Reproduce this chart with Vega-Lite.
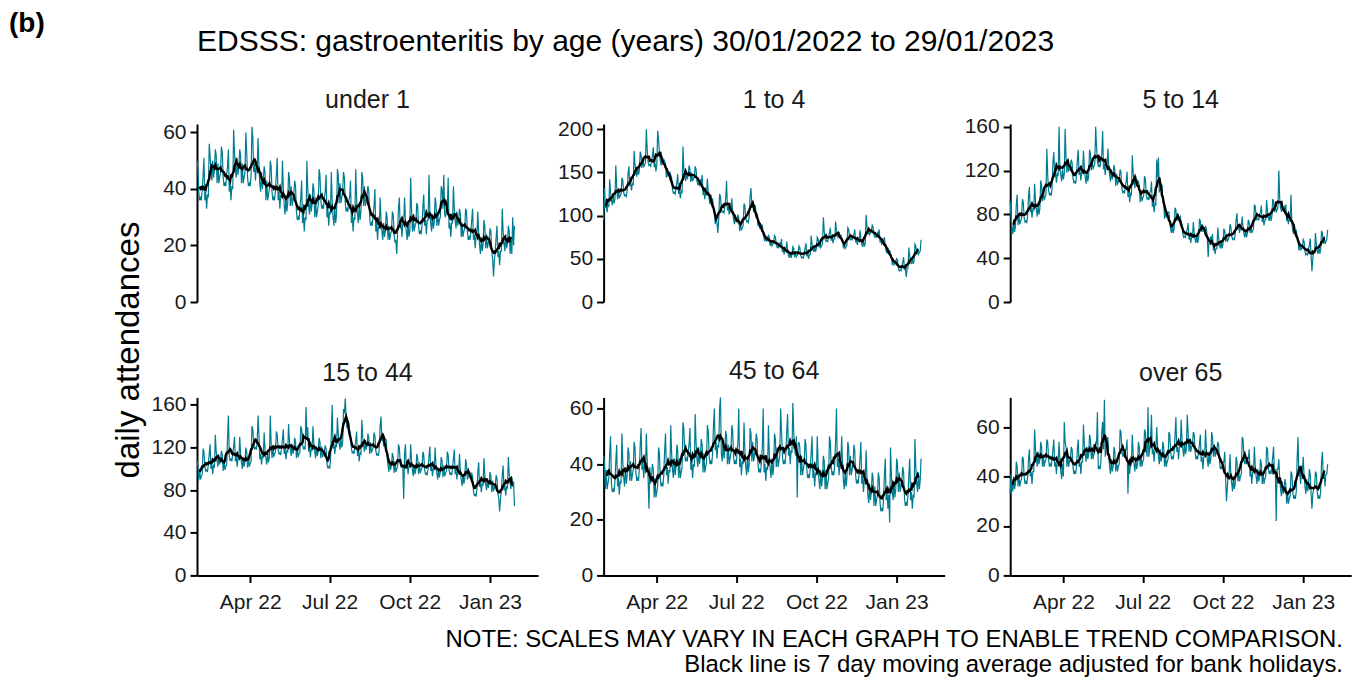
{
"$schema":"https://vega.github.io/schema/vega-lite/v6.json",
"background":"white",
"padding":{"left":8,"top":10,"right":5,"bottom":2},
"config":{"font":"Liberation Sans","view":{"stroke":null},
"axis":{"grid":false,"domainColor":"black","domainWidth":2,"tickColor":"black","tickWidth":2,"tickSize":7,"labelColor":"#1a1a1a","labelFontSize":21,"labelPadding":4},
"title":{"fontSize":25,"fontWeight":"normal","color":"#1a1a1a","anchor":"middle","frame":"group","baseline":"alphabetic","offset":16}},
"datasets":{"g":[
{"t":"2022-01-30","a":50,"b":95,"c":92,"d":108,"e":43,"f":33},
{"t":"2022-01-31","a":48,"b":132,"c":76,"d":104,"e":41,"f":41},
{"t":"2022-02-01","a":39,"b":109,"c":68,"d":89,"e":31,"f":37},
{"t":"2022-02-02","a":36,"b":114,"c":62,"d":100,"e":38,"f":34},
{"t":"2022-02-03","a":37,"b":104,"c":73,"d":90,"e":31,"f":40},
{"t":"2022-02-04","a":36,"b":112,"c":64,"d":93,"e":33,"f":35},
{"t":"2022-02-05","a":40,"b":111,"c":69,"d":95,"e":35,"f":37},
{"t":"2022-02-06","a":45,"b":142,"c":89,"d":119,"e":44,"f":46},
{"t":"2022-02-07","a":51,"b":126,"c":98,"d":116,"e":50,"f":44},
{"t":"2022-02-08","a":36,"b":118,"c":70,"d":102,"e":33,"f":36},
{"t":"2022-02-09","a":39,"b":112,"c":81,"d":98,"e":30,"f":41},
{"t":"2022-02-10","a":33,"b":123,"c":71,"d":99,"e":31,"f":36},
{"t":"2022-02-11","a":38,"b":114,"c":74,"d":97,"e":30,"f":38},
{"t":"2022-02-12","a":37,"b":119,"c":76,"d":104,"e":34,"f":39},
{"t":"2022-02-13","a":56,"b":158,"c":94,"d":114,"e":41,"f":48},
{"t":"2022-02-14","a":52,"b":134,"c":91,"d":123,"e":47,"f":47},
{"t":"2022-02-15","a":46,"b":119,"c":77,"d":100,"e":32,"f":40},
{"t":"2022-02-16","a":43,"b":130,"c":73,"d":105,"e":35,"f":37},
{"t":"2022-02-17","a":50,"b":120,"c":74,"d":95,"e":29,"f":38},
{"t":"2022-02-18","a":44,"b":123,"c":72,"d":103,"e":34,"f":37},
{"t":"2022-02-19","a":47,"b":125,"c":79,"d":102,"e":33,"f":40},
{"t":"2022-02-20","a":54,"b":144,"c":96,"d":132,"e":51,"f":47},
{"t":"2022-02-21","a":52,"b":141,"c":105,"d":116,"e":41,"f":51},
{"t":"2022-02-22","a":42,"b":127,"c":82,"d":108,"e":35,"f":40},
{"t":"2022-02-23","a":49,"b":123,"c":87,"d":102,"e":32,"f":42},
{"t":"2022-02-24","a":42,"b":124,"c":77,"d":113,"e":39,"f":37},
{"t":"2022-02-25","a":44,"b":122,"c":85,"d":104,"e":33,"f":42},
{"t":"2022-02-26","a":46,"b":129,"c":84,"d":109,"e":36,"f":42},
{"t":"2022-02-27","a":55,"b":148,"c":108,"d":117,"e":46,"f":59},
{"t":"2022-02-28","a":53,"b":157,"c":92,"d":113,"e":44,"f":51},
{"t":"2022-03-01","a":44,"b":134,"c":84,"d":98,"e":34,"f":47},
{"t":"2022-03-02","a":41,"b":139,"c":78,"d":109,"e":41,"f":44},
{"t":"2022-03-03","a":42,"b":129,"c":89,"d":99,"e":34,"f":50},
{"t":"2022-03-04","a":41,"b":137,"c":80,"d":102,"e":36,"f":45},
{"t":"2022-03-05","a":45,"b":136,"c":85,"d":104,"e":38,"f":47},
{"t":"2022-03-06","a":48,"b":175,"c":111,"d":129,"e":48,"f":54},
{"t":"2022-03-07","a":54,"b":159,"c":107,"d":150,"e":46,"f":52},
{"t":"2022-03-08","a":39,"b":151,"c":92,"d":112,"e":37,"f":44},
{"t":"2022-03-09","a":42,"b":145,"c":103,"d":108,"e":34,"f":49},
{"t":"2022-03-10","a":36,"b":156,"c":93,"d":109,"e":35,"f":44},
{"t":"2022-03-11","a":41,"b":147,"c":96,"d":107,"e":34,"f":46},
{"t":"2022-03-12","a":40,"b":152,"c":98,"d":114,"e":38,"f":47},
{"t":"2022-03-13","a":61,"b":174,"c":140,"d":121,"e":47,"f":55},
{"t":"2022-03-14","a":53,"b":170,"c":116,"d":130,"e":53,"f":54},
{"t":"2022-03-15","a":47,"b":155,"c":102,"d":107,"e":38,"f":47},
{"t":"2022-03-16","a":44,"b":166,"c":98,"d":112,"e":41,"f":44},
{"t":"2022-03-17","a":51,"b":156,"c":99,"d":102,"e":35,"f":45},
{"t":"2022-03-18","a":45,"b":159,"c":97,"d":110,"e":40,"f":44},
{"t":"2022-03-19","a":48,"b":161,"c":104,"d":109,"e":39,"f":47},
{"t":"2022-03-20","a":54,"b":200,"c":128,"d":130,"e":51,"f":51},
{"t":"2022-03-21","a":52,"b":176,"c":137,"d":114,"e":41,"f":55},
{"t":"2022-03-22","a":42,"b":162,"c":114,"d":106,"e":35,"f":44},
{"t":"2022-03-23","a":49,"b":158,"c":119,"d":100,"e":24,"f":46},
{"t":"2022-03-24","a":42,"b":159,"c":109,"d":111,"e":39,"f":41},
{"t":"2022-03-25","a":44,"b":157,"c":117,"d":102,"e":33,"f":46},
{"t":"2022-03-26","a":46,"b":164,"c":116,"d":107,"e":36,"f":46},
{"t":"2022-03-27","a":60,"b":170,"c":160,"d":120,"e":40,"f":54},
{"t":"2022-03-28","a":53,"b":179,"c":124,"d":116,"e":38,"f":46},
{"t":"2022-03-29","a":44,"b":156,"c":116,"d":101,"e":28,"f":42},
{"t":"2022-03-30","a":41,"b":161,"c":110,"d":112,"e":35,"f":39},
{"t":"2022-03-31","a":42,"b":151,"c":121,"d":102,"e":28,"f":45},
{"t":"2022-04-01","a":41,"b":159,"c":112,"d":105,"e":30,"f":40},
{"t":"2022-04-02","a":45,"b":198,"c":117,"d":107,"e":32,"f":62},
{"t":"2022-04-03","a":62,"b":188,"c":158,"d":140,"e":46,"f":54},
{"t":"2022-04-04","a":58,"b":172,"c":133,"d":137,"e":44,"f":52},
{"t":"2022-04-05","a":46,"b":164,"c":118,"d":123,"e":35,"f":44},
{"t":"2022-04-06","a":49,"b":158,"c":129,"d":119,"e":32,"f":49},
{"t":"2022-04-07","a":43,"b":169,"c":119,"d":120,"e":33,"f":44},
{"t":"2022-04-08","a":48,"b":160,"c":122,"d":118,"e":32,"f":46},
{"t":"2022-04-09","a":47,"b":165,"c":124,"d":125,"e":36,"f":47},
{"t":"2022-04-10","a":58,"b":163,"c":130,"d":150,"e":45,"f":52},
{"t":"2022-04-11","a":48,"b":159,"c":127,"d":132,"e":51,"f":51},
{"t":"2022-04-12","a":42,"b":144,"c":113,"d":109,"e":36,"f":44},
{"t":"2022-04-13","a":39,"b":155,"c":109,"d":114,"e":39,"f":41},
{"t":"2022-04-14","a":46,"b":145,"c":110,"d":104,"e":33,"f":42},
{"t":"2022-04-15","a":40,"b":148,"c":108,"d":112,"e":38,"f":41},
{"t":"2022-04-16","a":43,"b":150,"c":115,"d":111,"e":37,"f":44},
{"t":"2022-04-17","a":48,"b":147,"c":130,"d":134,"e":54,"f":51},
{"t":"2022-04-18","a":46,"b":144,"c":139,"d":118,"e":44,"f":55},
{"t":"2022-04-19","a":36,"b":130,"c":116,"d":110,"e":38,"f":44},
{"t":"2022-04-20","a":43,"b":126,"c":121,"d":104,"e":35,"f":46},
{"t":"2022-04-21","a":36,"b":127,"c":111,"d":115,"e":42,"f":41},
{"t":"2022-04-22","a":38,"b":125,"c":119,"d":106,"e":36,"f":46},
{"t":"2022-04-23","a":40,"b":132,"c":118,"d":111,"e":39,"f":46},
{"t":"2022-04-24","a":50,"b":139,"c":138,"d":150,"e":47,"f":61},
{"t":"2022-04-25","a":48,"b":148,"c":122,"d":125,"e":45,"f":53},
{"t":"2022-04-26","a":39,"b":125,"c":114,"d":110,"e":35,"f":49},
{"t":"2022-04-27","a":36,"b":130,"c":108,"d":121,"e":42,"f":46},
{"t":"2022-04-28","a":37,"b":120,"c":119,"d":111,"e":35,"f":52},
{"t":"2022-04-29","a":36,"b":128,"c":110,"d":114,"e":37,"f":47},
{"t":"2022-04-30","a":40,"b":127,"c":115,"d":116,"e":39,"f":49},
{"t":"2022-05-01","a":45,"b":180,"c":139,"d":135,"e":55,"f":57},
{"t":"2022-05-02","a":51,"b":154,"c":135,"d":132,"e":53,"f":55},
{"t":"2022-05-03","a":36,"b":146,"c":120,"d":118,"e":44,"f":47},
{"t":"2022-05-04","a":39,"b":140,"c":131,"d":114,"e":41,"f":52},
{"t":"2022-05-05","a":33,"b":151,"c":121,"d":115,"e":42,"f":47},
{"t":"2022-05-06","a":38,"b":142,"c":124,"d":113,"e":41,"f":49},
{"t":"2022-05-07","a":37,"b":147,"c":126,"d":120,"e":45,"f":50},
{"t":"2022-05-08","a":50,"b":158,"c":160,"d":128,"e":47,"f":54},
{"t":"2022-05-09","a":40,"b":154,"c":142,"d":137,"e":53,"f":53},
{"t":"2022-05-10","a":34,"b":139,"c":128,"d":114,"e":38,"f":66},
{"t":"2022-05-11","a":31,"b":150,"c":124,"d":119,"e":41,"f":43},
{"t":"2022-05-12","a":38,"b":140,"c":125,"d":109,"e":35,"f":44},
{"t":"2022-05-13","a":32,"b":143,"c":123,"d":117,"e":40,"f":43},
{"t":"2022-05-14","a":35,"b":145,"c":130,"d":116,"e":39,"f":46},
{"t":"2022-05-15","a":46,"b":157,"c":135,"d":142,"e":58,"f":58},
{"t":"2022-05-16","a":44,"b":154,"c":156,"d":126,"e":48,"f":62},
{"t":"2022-05-17","a":34,"b":140,"c":121,"d":118,"e":42,"f":51},
{"t":"2022-05-18","a":41,"b":136,"c":126,"d":112,"e":39,"f":71},
{"t":"2022-05-19","a":34,"b":137,"c":116,"d":123,"e":46,"f":48},
{"t":"2022-05-20","a":36,"b":135,"c":124,"d":114,"e":40,"f":53},
{"t":"2022-05-21","a":38,"b":142,"c":123,"d":119,"e":43,"f":53},
{"t":"2022-05-22","a":43,"b":138,"c":140,"d":129,"e":49,"f":56},
{"t":"2022-05-23","a":41,"b":147,"c":124,"d":125,"e":47,"f":48},
{"t":"2022-05-24","a":32,"b":124,"c":116,"d":110,"e":37,"f":44},
{"t":"2022-05-25","a":29,"b":129,"c":110,"d":121,"e":44,"f":41},
{"t":"2022-05-26","a":30,"b":119,"c":121,"d":111,"e":37,"f":47},
{"t":"2022-05-27","a":29,"b":127,"c":112,"d":114,"e":39,"f":42},
{"t":"2022-05-28","a":33,"b":126,"c":117,"d":116,"e":41,"f":44},
{"t":"2022-05-29","a":37,"b":143,"c":125,"d":140,"e":54,"f":52},
{"t":"2022-05-30","a":43,"b":127,"c":121,"d":137,"e":52,"f":50},
{"t":"2022-05-31","a":28,"b":119,"c":106,"d":123,"e":43,"f":42},
{"t":"2022-06-01","a":31,"b":113,"c":117,"d":119,"e":40,"f":47},
{"t":"2022-06-02","a":25,"b":124,"c":107,"d":120,"e":41,"f":42},
{"t":"2022-06-03","a":30,"b":115,"c":110,"d":118,"e":40,"f":44},
{"t":"2022-06-04","a":29,"b":120,"c":112,"d":158,"e":44,"f":45},
{"t":"2022-06-05","a":50,"b":109,"c":121,"d":130,"e":54,"f":59},
{"t":"2022-06-06","a":40,"b":105,"c":118,"d":139,"e":60,"f":58},
{"t":"2022-06-07","a":34,"b":90,"c":104,"d":116,"e":45,"f":51},
{"t":"2022-06-08","a":31,"b":101,"c":100,"d":121,"e":48,"f":48},
{"t":"2022-06-09","a":38,"b":91,"c":101,"d":111,"e":42,"f":49},
{"t":"2022-06-10","a":32,"b":80,"c":99,"d":119,"e":47,"f":48},
{"t":"2022-06-11","a":35,"b":96,"c":106,"d":118,"e":46,"f":51},
{"t":"2022-06-12","a":42,"b":125,"c":110,"d":140,"e":60,"f":51},
{"t":"2022-06-13","a":40,"b":122,"c":119,"d":124,"e":64,"f":55},
{"t":"2022-06-14","a":30,"b":108,"c":96,"d":116,"e":44,"f":33},
{"t":"2022-06-15","a":37,"b":104,"c":101,"d":110,"e":41,"f":46},
{"t":"2022-06-16","a":30,"b":105,"c":91,"d":121,"e":48,"f":41},
{"t":"2022-06-17","a":32,"b":103,"c":99,"d":112,"e":42,"f":46},
{"t":"2022-06-18","a":34,"b":110,"c":98,"d":117,"e":45,"f":46},
{"t":"2022-06-19","a":47,"b":120,"c":134,"d":129,"e":52,"f":57},
{"t":"2022-06-20","a":45,"b":140,"c":118,"d":125,"e":50,"f":49},
{"t":"2022-06-21","a":36,"b":106,"c":110,"d":110,"e":40,"f":45},
{"t":"2022-06-22","a":33,"b":111,"c":104,"d":121,"e":47,"f":42},
{"t":"2022-06-23","a":34,"b":101,"c":115,"d":111,"e":40,"f":48},
{"t":"2022-06-24","a":33,"b":109,"c":106,"d":114,"e":42,"f":43},
{"t":"2022-06-25","a":37,"b":108,"c":111,"d":116,"e":44,"f":45},
{"t":"2022-06-26","a":39,"b":120,"c":110,"d":122,"e":54,"f":54},
{"t":"2022-06-27","a":45,"b":104,"c":106,"d":119,"e":52,"f":52},
{"t":"2022-06-28","a":30,"b":96,"c":91,"d":105,"e":43,"f":44},
{"t":"2022-06-29","a":33,"b":90,"c":102,"d":101,"e":40,"f":49},
{"t":"2022-06-30","a":27,"b":101,"c":92,"d":102,"e":41,"f":44},
{"t":"2022-07-01","a":32,"b":92,"c":95,"d":100,"e":40,"f":46},
{"t":"2022-07-02","a":31,"b":97,"c":97,"d":107,"e":44,"f":47},
{"t":"2022-07-03","a":46,"b":101,"c":115,"d":133,"e":48,"f":59},
{"t":"2022-07-04","a":36,"b":97,"c":112,"d":160,"e":60,"f":58},
{"t":"2022-07-05","a":30,"b":82,"c":98,"d":119,"e":39,"f":51},
{"t":"2022-07-06","a":27,"b":93,"c":94,"d":124,"e":42,"f":48},
{"t":"2022-07-07","a":34,"b":83,"c":95,"d":114,"e":36,"f":68},
{"t":"2022-07-08","a":28,"b":86,"c":93,"d":122,"e":41,"f":48},
{"t":"2022-07-09","a":31,"b":88,"c":100,"d":121,"e":40,"f":51},
{"t":"2022-07-10","a":47,"b":114,"c":101,"d":148,"e":55,"f":56},
{"t":"2022-07-11","a":45,"b":111,"c":110,"d":132,"e":45,"f":65},
{"t":"2022-07-12","a":35,"b":97,"c":87,"d":124,"e":39,"f":49},
{"t":"2022-07-13","a":42,"b":93,"c":92,"d":118,"e":36,"f":51},
{"t":"2022-07-14","a":35,"b":94,"c":82,"d":129,"e":43,"f":46},
{"t":"2022-07-15","a":37,"b":92,"c":90,"d":120,"e":37,"f":51},
{"t":"2022-07-16","a":39,"b":99,"c":89,"d":125,"e":40,"f":51},
{"t":"2022-07-17","a":46,"b":123,"c":130,"d":156,"e":53,"f":60},
{"t":"2022-07-18","a":44,"b":132,"c":114,"d":152,"e":51,"f":52},
{"t":"2022-07-19","a":35,"b":109,"c":132,"d":166,"e":41,"f":48},
{"t":"2022-07-20","a":32,"b":114,"c":100,"d":148,"e":48,"f":45},
{"t":"2022-07-21","a":33,"b":104,"c":111,"d":138,"e":41,"f":51},
{"t":"2022-07-22","a":32,"b":112,"c":102,"d":141,"e":43,"f":46},
{"t":"2022-07-23","a":36,"b":111,"c":107,"d":143,"e":45,"f":48},
{"t":"2022-07-24","a":37,"b":97,"c":95,"d":136,"e":51,"f":54},
{"t":"2022-07-25","a":43,"b":103,"c":91,"d":133,"e":49,"f":52},
{"t":"2022-07-26","a":28,"b":88,"c":76,"d":119,"e":40,"f":44},
{"t":"2022-07-27","a":31,"b":91,"c":87,"d":115,"e":37,"f":49},
{"t":"2022-07-28","a":25,"b":85,"c":77,"d":116,"e":38,"f":44},
{"t":"2022-07-29","a":30,"b":90,"c":80,"d":114,"e":37,"f":46},
{"t":"2022-07-30","a":29,"b":89,"c":82,"d":121,"e":41,"f":47},
{"t":"2022-07-31","a":47,"b":89,"c":82,"d":126,"e":46,"f":58},
{"t":"2022-08-01","a":37,"b":79,"c":72,"d":135,"e":60,"f":57},
{"t":"2022-08-02","a":31,"b":73,"c":66,"d":112,"e":37,"f":50},
{"t":"2022-08-03","a":28,"b":70,"c":63,"d":117,"e":40,"f":47},
{"t":"2022-08-04","a":35,"b":77,"c":70,"d":107,"e":34,"f":48},
{"t":"2022-08-05","a":29,"b":70,"c":63,"d":115,"e":39,"f":47},
{"t":"2022-08-06","a":32,"b":74,"c":67,"d":114,"e":38,"f":50},
{"t":"2022-08-07","a":46,"b":77,"c":86,"d":146,"e":54,"f":57},
{"t":"2022-08-08","a":44,"b":75,"c":84,"d":130,"e":44,"f":64},
{"t":"2022-08-09","a":34,"b":65,"c":74,"d":122,"e":38,"f":50},
{"t":"2022-08-10","a":41,"b":72,"c":81,"d":116,"e":35,"f":52},
{"t":"2022-08-11","a":34,"b":65,"c":74,"d":127,"e":42,"f":47},
{"t":"2022-08-12","a":36,"b":67,"c":76,"d":118,"e":36,"f":52},
{"t":"2022-08-13","a":38,"b":69,"c":78,"d":123,"e":39,"f":52},
{"t":"2022-08-14","a":41,"b":77,"c":73,"d":133,"e":51,"f":63},
{"t":"2022-08-15","a":39,"b":75,"c":71,"d":129,"e":49,"f":55},
{"t":"2022-08-16","a":30,"b":66,"c":62,"d":114,"e":39,"f":51},
{"t":"2022-08-17","a":27,"b":63,"c":59,"d":125,"e":46,"f":48},
{"t":"2022-08-18","a":28,"b":64,"c":60,"d":115,"e":39,"f":54},
{"t":"2022-08-19","a":27,"b":63,"c":59,"d":118,"e":41,"f":49},
{"t":"2022-08-20","a":31,"b":68,"c":64,"d":120,"e":43,"f":51},
{"t":"2022-08-21","a":34,"b":67,"c":66,"d":134,"e":60,"f":65},
{"t":"2022-08-22","a":40,"b":73,"c":72,"d":131,"e":52,"f":58},
{"t":"2022-08-23","a":25,"b":58,"c":57,"d":117,"e":43,"f":50},
{"t":"2022-08-24","a":28,"b":61,"c":60,"d":113,"e":40,"f":55},
{"t":"2022-08-25","a":22,"b":55,"c":54,"d":114,"e":41,"f":50},
{"t":"2022-08-26","a":27,"b":60,"c":59,"d":112,"e":40,"f":52},
{"t":"2022-08-27","a":26,"b":60,"c":59,"d":119,"e":44,"f":53},
{"t":"2022-08-28","a":37,"b":70,"c":73,"d":140,"e":52,"f":58},
{"t":"2022-08-29","a":29,"b":60,"c":63,"d":149,"e":58,"f":57},
{"t":"2022-08-30","a":25,"b":54,"c":57,"d":126,"e":43,"f":50},
{"t":"2022-08-31","a":22,"b":51,"c":54,"d":131,"e":46,"f":47},
{"t":"2022-09-01","a":28,"b":58,"c":61,"d":121,"e":40,"f":48},
{"t":"2022-09-02","a":23,"b":51,"c":54,"d":129,"e":45,"f":47},
{"t":"2022-09-03","a":25,"b":55,"c":58,"d":128,"e":44,"f":50},
{"t":"2022-09-04","a":32,"b":64,"c":76,"d":127,"e":62,"f":53},
{"t":"2022-09-05","a":30,"b":62,"c":74,"d":111,"e":52,"f":57},
{"t":"2022-09-06","a":22,"b":52,"c":64,"d":103,"e":46,"f":46},
{"t":"2022-09-07","a":27,"b":59,"c":71,"d":97,"e":43,"f":48},
{"t":"2022-09-08","a":22,"b":52,"c":64,"d":108,"e":50,"f":43},
{"t":"2022-09-09","a":24,"b":54,"c":66,"d":99,"e":28,"f":48},
{"t":"2022-09-10","a":25,"b":56,"c":68,"d":104,"e":47,"f":48},
{"t":"2022-09-11","a":32,"b":65,"c":69,"d":115,"e":48,"f":59},
{"t":"2022-09-12","a":31,"b":63,"c":67,"d":111,"e":46,"f":51},
{"t":"2022-09-13","a":24,"b":54,"c":58,"d":96,"e":36,"f":47},
{"t":"2022-09-14","a":21,"b":51,"c":41,"d":107,"e":43,"f":44},
{"t":"2022-09-15","a":22,"b":52,"c":56,"d":97,"e":36,"f":50},
{"t":"2022-09-16","a":17,"b":51,"c":55,"d":100,"e":38,"f":45},
{"t":"2022-09-17","a":24,"b":56,"c":60,"d":102,"e":40,"f":47},
{"t":"2022-09-18","a":33,"b":62,"c":56,"d":123,"e":49,"f":58},
{"t":"2022-09-19","a":37,"b":68,"c":62,"d":120,"e":47,"f":56},
{"t":"2022-09-20","a":26,"b":53,"c":47,"d":106,"e":38,"f":48},
{"t":"2022-09-21","a":28,"b":56,"c":50,"d":102,"e":35,"f":53},
{"t":"2022-09-22","a":23,"b":50,"c":44,"d":103,"e":36,"f":48},
{"t":"2022-09-23","a":28,"b":55,"c":49,"d":101,"e":35,"f":50},
{"t":"2022-09-24","a":28,"b":55,"c":49,"d":72,"e":39,"f":51},
{"t":"2022-09-25","a":37,"b":77,"c":68,"d":114,"e":44,"f":54},
{"t":"2022-09-26","a":29,"b":67,"c":58,"d":123,"e":50,"f":53},
{"t":"2022-09-27","a":25,"b":61,"c":52,"d":100,"e":35,"f":46},
{"t":"2022-09-28","a":22,"b":58,"c":49,"d":105,"e":38,"f":43},
{"t":"2022-09-29","a":28,"b":65,"c":56,"d":95,"e":32,"f":44},
{"t":"2022-09-30","a":23,"b":58,"c":49,"d":103,"e":37,"f":43},
{"t":"2022-10-01","a":25,"b":62,"c":53,"d":102,"e":36,"f":46},
{"t":"2022-10-02","a":44,"b":75,"c":67,"d":123,"e":50,"f":46},
{"t":"2022-10-03","a":33,"b":73,"c":65,"d":107,"e":40,"f":50},
{"t":"2022-10-04","a":25,"b":63,"c":55,"d":99,"e":34,"f":39},
{"t":"2022-10-05","a":30,"b":70,"c":62,"d":93,"e":31,"f":30},
{"t":"2022-10-06","a":25,"b":63,"c":55,"d":104,"e":38,"f":36},
{"t":"2022-10-07","a":27,"b":65,"c":57,"d":95,"e":32,"f":41},
{"t":"2022-10-08","a":28,"b":67,"c":59,"d":100,"e":35,"f":41},
{"t":"2022-10-09","a":35,"b":98,"c":71,"d":114,"e":43,"f":49},
{"t":"2022-10-10","a":34,"b":82,"c":69,"d":110,"e":41,"f":41},
{"t":"2022-10-11","a":27,"b":73,"c":60,"d":95,"e":31,"f":37},
{"t":"2022-10-12","a":24,"b":70,"c":57,"d":106,"e":38,"f":34},
{"t":"2022-10-13","a":25,"b":71,"c":58,"d":96,"e":31,"f":40},
{"t":"2022-10-14","a":24,"b":70,"c":57,"d":99,"e":33,"f":35},
{"t":"2022-10-15","a":27,"b":75,"c":62,"d":101,"e":35,"f":37},
{"t":"2022-10-16","a":34,"b":80,"c":75,"d":116,"e":50,"f":48},
{"t":"2022-10-17","a":38,"b":86,"c":81,"d":113,"e":48,"f":46},
{"t":"2022-10-18","a":27,"b":71,"c":66,"d":99,"e":39,"f":38},
{"t":"2022-10-19","a":29,"b":74,"c":69,"d":95,"e":36,"f":43},
{"t":"2022-10-20","a":24,"b":68,"c":63,"d":96,"e":37,"f":38},
{"t":"2022-10-21","a":29,"b":73,"c":68,"d":94,"e":36,"f":40},
{"t":"2022-10-22","a":29,"b":73,"c":68,"d":101,"e":40,"f":41},
{"t":"2022-10-23","a":45,"b":93,"c":78,"d":112,"e":48,"f":56},
{"t":"2022-10-24","a":32,"b":83,"c":68,"d":121,"e":60,"f":55},
{"t":"2022-10-25","a":28,"b":77,"c":62,"d":98,"e":39,"f":48},
{"t":"2022-10-26","a":25,"b":74,"c":59,"d":103,"e":42,"f":45},
{"t":"2022-10-27","a":31,"b":81,"c":66,"d":93,"e":36,"f":46},
{"t":"2022-10-28","a":26,"b":74,"c":59,"d":101,"e":41,"f":45},
{"t":"2022-10-29","a":28,"b":78,"c":63,"d":100,"e":40,"f":48},
{"t":"2022-10-30","a":37,"b":74,"c":75,"d":120,"e":50,"f":47},
{"t":"2022-10-31","a":35,"b":72,"c":73,"d":104,"e":40,"f":51},
{"t":"2022-11-01","a":27,"b":62,"c":63,"d":96,"e":34,"f":40},
{"t":"2022-11-02","a":32,"b":69,"c":70,"d":90,"e":31,"f":42},
{"t":"2022-11-03","a":27,"b":62,"c":63,"d":101,"e":38,"f":37},
{"t":"2022-11-04","a":29,"b":64,"c":65,"d":92,"e":32,"f":42},
{"t":"2022-11-05","a":30,"b":66,"c":67,"d":97,"e":35,"f":42},
{"t":"2022-11-06","a":41,"b":86,"c":89,"d":111,"e":48,"f":52},
{"t":"2022-11-07","a":40,"b":84,"c":87,"d":107,"e":46,"f":44},
{"t":"2022-11-08","a":33,"b":75,"c":78,"d":92,"e":36,"f":40},
{"t":"2022-11-09","a":45,"b":72,"c":75,"d":103,"e":43,"f":37},
{"t":"2022-11-10","a":31,"b":73,"c":76,"d":93,"e":36,"f":43},
{"t":"2022-11-11","a":30,"b":72,"c":75,"d":96,"e":38,"f":38},
{"t":"2022-11-12","a":33,"b":77,"c":80,"d":98,"e":40,"f":40},
{"t":"2022-11-13","a":33,"b":78,"c":82,"d":116,"e":47,"f":47},
{"t":"2022-11-14","a":44,"b":84,"c":88,"d":113,"e":45,"f":45},
{"t":"2022-11-15","a":26,"b":69,"c":73,"d":99,"e":36,"f":37},
{"t":"2022-11-16","a":28,"b":72,"c":76,"d":95,"e":33,"f":42},
{"t":"2022-11-17","a":23,"b":66,"c":70,"d":96,"e":34,"f":37},
{"t":"2022-11-18","a":28,"b":71,"c":75,"d":94,"e":33,"f":39},
{"t":"2022-11-19","a":28,"b":71,"c":75,"d":101,"e":37,"f":40},
{"t":"2022-11-20","a":41,"b":83,"c":93,"d":109,"e":42,"f":52},
{"t":"2022-11-21","a":33,"b":73,"c":83,"d":118,"e":48,"f":51},
{"t":"2022-11-22","a":29,"b":67,"c":77,"d":95,"e":33,"f":44},
{"t":"2022-11-23","a":26,"b":64,"c":74,"d":100,"e":36,"f":41},
{"t":"2022-11-24","a":32,"b":71,"c":81,"d":90,"e":30,"f":42},
{"t":"2022-11-25","a":27,"b":64,"c":74,"d":98,"e":35,"f":41},
{"t":"2022-11-26","a":29,"b":68,"c":78,"d":97,"e":34,"f":44},
{"t":"2022-11-27","a":33,"b":101,"c":94,"d":114,"e":45,"f":48},
{"t":"2022-11-28","a":31,"b":88,"c":92,"d":98,"e":35,"f":52},
{"t":"2022-11-29","a":23,"b":78,"c":82,"d":90,"e":29,"f":41},
{"t":"2022-11-30","a":28,"b":85,"c":89,"d":84,"e":26,"f":43},
{"t":"2022-12-01","a":23,"b":78,"c":82,"d":95,"e":33,"f":22},
{"t":"2022-12-02","a":25,"b":80,"c":84,"d":86,"e":27,"f":43},
{"t":"2022-12-03","a":26,"b":82,"c":86,"d":91,"e":30,"f":43},
{"t":"2022-12-04","a":33,"b":89,"c":120,"d":109,"e":37,"f":47},
{"t":"2022-12-05","a":32,"b":87,"c":95,"d":105,"e":35,"f":39},
{"t":"2022-12-06","a":25,"b":78,"c":86,"d":90,"e":25,"f":35},
{"t":"2022-12-07","a":22,"b":75,"c":83,"d":101,"e":32,"f":32},
{"t":"2022-12-08","a":23,"b":76,"c":84,"d":91,"e":25,"f":38},
{"t":"2022-12-09","a":22,"b":75,"c":83,"d":94,"e":27,"f":33},
{"t":"2022-12-10","a":25,"b":80,"c":88,"d":96,"e":29,"f":35},
{"t":"2022-12-11","a":29,"b":78,"c":83,"d":96,"e":37,"f":39},
{"t":"2022-12-12","a":33,"b":84,"c":89,"d":93,"e":35,"f":37},
{"t":"2022-12-13","a":22,"b":69,"c":74,"d":79,"e":26,"f":29},
{"t":"2022-12-14","a":24,"b":72,"c":77,"d":75,"e":23,"f":34},
{"t":"2022-12-15","a":19,"b":66,"c":71,"d":76,"e":24,"f":29},
{"t":"2022-12-16","a":24,"b":71,"c":76,"d":74,"e":23,"f":31},
{"t":"2022-12-17","a":24,"b":71,"c":76,"d":81,"e":27,"f":32},
{"t":"2022-12-18","a":32,"b":75,"c":98,"d":97,"e":36,"f":42},
{"t":"2022-12-19","a":24,"b":65,"c":71,"d":106,"e":42,"f":41},
{"t":"2022-12-20","a":20,"b":59,"c":65,"d":83,"e":27,"f":34},
{"t":"2022-12-21","a":17,"b":56,"c":62,"d":88,"e":30,"f":31},
{"t":"2022-12-22","a":23,"b":63,"c":69,"d":78,"e":24,"f":32},
{"t":"2022-12-23","a":18,"b":56,"c":62,"d":86,"e":29,"f":31},
{"t":"2022-12-24","a":20,"b":60,"c":66,"d":85,"e":19,"f":34},
{"t":"2022-12-25","a":29,"b":55,"c":59,"d":110,"e":46,"f":47},
{"t":"2022-12-26","a":27,"b":53,"c":57,"d":94,"e":36,"f":56},
{"t":"2022-12-27","a":19,"b":43,"c":47,"d":86,"e":30,"f":40},
{"t":"2022-12-28","a":24,"b":50,"c":54,"d":80,"e":27,"f":42},
{"t":"2022-12-29","a":19,"b":43,"c":47,"d":91,"e":34,"f":37},
{"t":"2022-12-30","a":21,"b":45,"c":49,"d":82,"e":28,"f":42},
{"t":"2022-12-31","a":22,"b":47,"c":51,"d":87,"e":31,"f":42},
{"t":"2023-01-01","a":26,"b":50,"c":57,"d":97,"e":42,"f":48},
{"t":"2023-01-02","a":25,"b":48,"c":55,"d":93,"e":40,"f":40},
{"t":"2023-01-03","a":18,"b":39,"c":46,"d":78,"e":30,"f":36},
{"t":"2023-01-04","a":15,"b":36,"c":43,"d":89,"e":37,"f":33},
{"t":"2023-01-05","a":9,"b":37,"c":44,"d":79,"e":30,"f":39},
{"t":"2023-01-06","a":15,"b":36,"c":43,"d":82,"e":32,"f":34},
{"t":"2023-01-07","a":18,"b":41,"c":48,"d":84,"e":34,"f":36},
{"t":"2023-01-08","a":23,"b":46,"c":52,"d":94,"e":39,"f":43},
{"t":"2023-01-09","a":27,"b":52,"c":58,"d":91,"e":37,"f":41},
{"t":"2023-01-10","a":16,"b":37,"c":43,"d":77,"e":28,"f":33},
{"t":"2023-01-11","a":18,"b":40,"c":28,"d":73,"e":25,"f":27},
{"t":"2023-01-12","a":13,"b":29,"c":40,"d":60,"e":26,"f":33},
{"t":"2023-01-13","a":18,"b":39,"c":45,"d":72,"e":25,"f":35},
{"t":"2023-01-14","a":18,"b":39,"c":45,"d":79,"e":29,"f":36},
{"t":"2023-01-15","a":33,"b":63,"c":63,"d":94,"e":36,"f":42},
{"t":"2023-01-16","a":25,"b":53,"c":53,"d":103,"e":42,"f":41},
{"t":"2023-01-17","a":21,"b":47,"c":47,"d":80,"e":27,"f":34},
{"t":"2023-01-18","a":18,"b":44,"c":44,"d":85,"e":30,"f":31},
{"t":"2023-01-19","a":24,"b":51,"c":51,"d":75,"e":24,"f":32},
{"t":"2023-01-20","a":19,"b":44,"c":44,"d":83,"e":29,"f":31},
{"t":"2023-01-21","a":21,"b":48,"c":48,"d":82,"e":28,"f":34},
{"t":"2023-01-22","a":27,"b":67,"c":65,"d":111,"e":49,"f":46},
{"t":"2023-01-23","a":25,"b":65,"c":63,"d":95,"e":39,"f":50},
{"t":"2023-01-24","a":17,"b":55,"c":53,"d":87,"e":33,"f":39},
{"t":"2023-01-25","a":22,"b":62,"c":60,"d":81,"e":30,"f":41},
{"t":"2023-01-26","a":17,"b":55,"c":53,"d":92,"e":37,"f":36},
{"t":"2023-01-27","a":30,"b":57,"c":55,"d":83,"e":31,"f":41},
{"t":"2023-01-28","a":20,"b":59,"c":57,"d":88,"e":34,"f":41},
{"t":"2023-01-29","a":27,"b":72,"c":66,"d":65,"e":42,"f":45}
]},
"title":{"text":"(b)","anchor":"start","frame":"bounds","fontSize":28,"fontWeight":"bold","color":"black","baseline":"top","dx":-104,"dy":11,"offset":0},
"spacing":3,
"vconcat":[
{"title":{"text":"EDSSS: gastroenteritis by age (years) 30/01/2022 to 29/01/2023","anchor":"start","frame":"bounds","fontSize":30,"fontWeight":"normal","color":"black","baseline":"alphabetic","dx":84,"offset":6.5},
"spacing":3,
"hconcat":[
{"width":30,"height":452,"data":{"values":[{"l":"daily attendances"}]},"mark":{"type":"text","angle":270,"fontSize":33,"align":"center","baseline":"middle","color":"black"},"encoding":{"text":{"field":"l","type":"nominal"}}},
{"data":{"name":"g"},
"transform":[{"window":[{"op":"mean","field":"a","as":"ma"},{"op":"mean","field":"b","as":"mb"},{"op":"mean","field":"c","as":"mc"},{"op":"mean","field":"d","as":"md"},{"op":"mean","field":"e","as":"me"},{"op":"mean","field":"f","as":"mf"},{"op":"count","as":"n"}],"frame":[-3,3],"sort":[{"field":"t"}]}],
"columns":3,
"bounds":"flush",
"spacing":{"row":95.4,"column":65.6},
"concat":[
{"title":{"text":"under 1","offset":8.7},"width":341,"height":178,"layer":[
{"mark":{"type":"line","color":"#007C91","strokeWidth":1.2},"encoding":{"x":{"field":"t","type":"temporal","scale":{"domain":[{"year":2022,"month":1,"date":30},{"year":2023,"month":2,"date":25}]},"axis":null},"y":{"field":"a","type":"quantitative","scale":{"domain":[0,63],"nice":false},"axis":{"values":[0,20,40,60],"title":null}}}},
{"transform":[{"filter":"datum.n == 7"}],"mark":{"type":"line","color":"black","strokeWidth":2.4},"encoding":{"x":{"field":"t","type":"temporal","axis":null},"y":{"field":"ma","type":"quantitative","axis":{"values":[0,20,40,60],"title":null}}}}]},
{"title":{"text":"1 to 4","offset":5.4},"width":341,"height":178,"layer":[
{"mark":{"type":"line","color":"#007C91","strokeWidth":1.2},"encoding":{"x":{"field":"t","type":"temporal","scale":{"domain":[{"year":2022,"month":1,"date":30},{"year":2023,"month":2,"date":25}]},"axis":null},"y":{"field":"b","type":"quantitative","scale":{"domain":[0,206],"nice":false},"axis":{"values":[0,50,100,150,200],"title":null}}}},
{"transform":[{"filter":"datum.n == 7"}],"mark":{"type":"line","color":"black","strokeWidth":2.4},"encoding":{"x":{"field":"t","type":"temporal","axis":null},"y":{"field":"mb","type":"quantitative","axis":{"values":[0,50,100,150,200],"title":null}}}}]},
{"title":{"text":"5 to 14","offset":2.9},"width":341,"height":178,"layer":[
{"mark":{"type":"line","color":"#007C91","strokeWidth":1.2},"encoding":{"x":{"field":"t","type":"temporal","scale":{"domain":[{"year":2022,"month":1,"date":30},{"year":2023,"month":2,"date":25}]},"axis":null},"y":{"field":"c","type":"quantitative","scale":{"domain":[0,162.5],"nice":false},"axis":{"values":[0,40,80,120,160],"title":null}}}},
{"transform":[{"filter":"datum.n == 7"}],"mark":{"type":"line","color":"black","strokeWidth":2.4},"encoding":{"x":{"field":"t","type":"temporal","axis":null},"y":{"field":"mc","type":"quantitative","axis":{"values":[0,40,80,120,160],"title":null}}}}]},
{"title":{"text":"15 to 44","offset":7.7},"width":341,"height":178,"layer":[
{"mark":{"type":"line","color":"#007C91","strokeWidth":1.2},"encoding":{"x":{"field":"t","type":"temporal","scale":{"domain":[{"year":2022,"month":1,"date":30},{"year":2023,"month":2,"date":25}]},"axis":{"values":[{"year":2022,"month":4,"date":1},{"year":2022,"month":7,"date":1},{"year":2022,"month":10,"date":1},{"year":2023,"month":1,"date":1}],"format":"%b %y","title":null,"labelPadding":9}},"y":{"field":"d","type":"quantitative","scale":{"domain":[0,167],"nice":false},"axis":{"values":[0,40,80,120,160],"title":null}}}},
{"transform":[{"filter":"datum.n == 7"}],"mark":{"type":"line","color":"black","strokeWidth":2.4},"encoding":{"x":{"field":"t","type":"temporal","axis":{"values":[{"year":2022,"month":4,"date":1},{"year":2022,"month":7,"date":1},{"year":2022,"month":10,"date":1},{"year":2023,"month":1,"date":1}],"format":"%b %y","title":null,"labelPadding":9}},"y":{"field":"md","type":"quantitative","axis":{"values":[0,40,80,120,160],"title":null}}}}]},
{"title":{"text":"45 to 64","offset":11.2},"width":341,"height":178,"layer":[
{"mark":{"type":"line","color":"#007C91","strokeWidth":1.2},"encoding":{"x":{"field":"t","type":"temporal","scale":{"domain":[{"year":2022,"month":1,"date":30},{"year":2023,"month":2,"date":25}]},"axis":{"values":[{"year":2022,"month":4,"date":1},{"year":2022,"month":7,"date":1},{"year":2022,"month":10,"date":1},{"year":2023,"month":1,"date":1}],"format":"%b %y","title":null,"labelPadding":9}},"y":{"field":"e","type":"quantitative","scale":{"domain":[0,64],"nice":false},"axis":{"values":[0,20,40,60],"title":null}}}},
{"transform":[{"filter":"datum.n == 7"}],"mark":{"type":"line","color":"black","strokeWidth":2.4},"encoding":{"x":{"field":"t","type":"temporal","axis":{"values":[{"year":2022,"month":4,"date":1},{"year":2022,"month":7,"date":1},{"year":2022,"month":10,"date":1},{"year":2023,"month":1,"date":1}],"format":"%b %y","title":null,"labelPadding":9}},"y":{"field":"me","type":"quantitative","axis":{"values":[0,20,40,60],"title":null}}}}]},
{"title":{"text":"over 65","offset":11.2},"width":341,"height":178,"layer":[
{"mark":{"type":"line","color":"#007C91","strokeWidth":1.2},"encoding":{"x":{"field":"t","type":"temporal","scale":{"domain":[{"year":2022,"month":1,"date":30},{"year":2023,"month":2,"date":25}]},"axis":{"values":[{"year":2022,"month":4,"date":1},{"year":2022,"month":7,"date":1},{"year":2022,"month":10,"date":1},{"year":2023,"month":1,"date":1}],"format":"%b %y","title":null,"labelPadding":9}},"y":{"field":"f","type":"quantitative","scale":{"domain":[0,72],"nice":false},"axis":{"values":[0,20,40,60],"title":null}}}},
{"transform":[{"filter":"datum.n == 7"}],"mark":{"type":"line","color":"black","strokeWidth":2.4},"encoding":{"x":{"field":"t","type":"temporal","axis":{"values":[{"year":2022,"month":4,"date":1},{"year":2022,"month":7,"date":1},{"year":2022,"month":10,"date":1},{"year":2023,"month":1,"date":1}],"format":"%b %y","title":null,"labelPadding":9}},"y":{"field":"mf","type":"quantitative","axis":{"values":[0,20,40,60],"title":null}}}}]}
]}
]},
{"width":1229,"height":48,"data":{"values":[{"l":"NOTE: SCALES MAY VARY IN EACH GRAPH TO ENABLE TREND COMPARISON.\nBlack line is 7 day moving average adjusted for bank holidays."}]},
"mark":{"type":"text","align":"right","baseline":"middle","fontSize":23.9,"lineHeight":25,"lineBreak":"\n","color":"black"},
"encoding":{"text":{"field":"l","type":"nominal"},"x":{"value":"width"}}}
]
}
